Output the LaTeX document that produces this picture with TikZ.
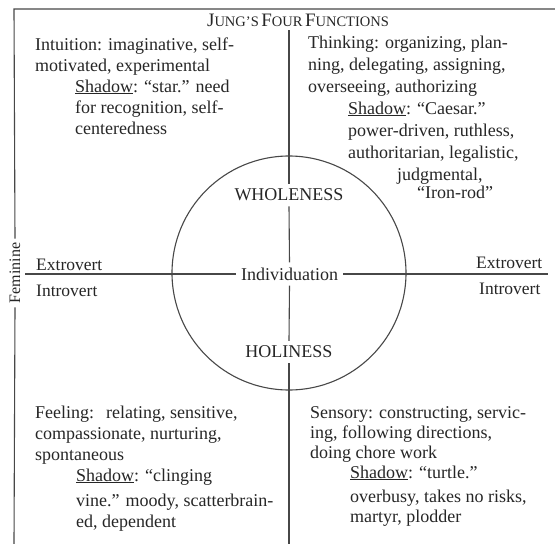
\documentclass[tikz,border=0pt]{standalone}
\usepackage{fontspec}
\setmainfont{Liberation Serif}
\begin{document}
\begin{tikzpicture}[x=1pt,y=-1pt,
  ink/.style={draw=black!72, line width=1.1pt},
  body/.style={text=black!85, font=\fontsize{18}{21}\selectfont, inner sep=0pt, anchor=base west, align=left},
  side/.style={text=black!85, font=\fontsize{17.5}{21}\selectfont, inner sep=0pt, anchor=base west},
  mid/.style={text=black!85, font=\fontsize{18}{21}\selectfont, inner sep=5pt},
  femstyle/.style={text=black!85, font=\fontsize{16}{18}\selectfont, inner sep=4pt}]
\useasboundingbox (0,0) rectangle (555,544);
% frame
\coordinate (tl) at (14,9);
\coordinate (tr) at (555,9);
\coordinate (bl) at (14,544);
\node[femstyle, rotate=90] (fem) at (15,273) {Feminine};
\draw[ink] (bl) -- (fem.west);
\draw[ink] (fem.east) -- (tl) -- (tr);
% title
\node[text=black!85, inner sep=0pt, anchor=base] (title) at (298,26)
  {{\fontsize{19}{19}\selectfont J}{\fontsize{14.5}{19}\selectfont UNG’S} {\fontsize{19}{19}\selectfont F}{\fontsize{14.5}{19}\selectfont OUR} {\fontsize{19}{19}\selectfont F}{\fontsize{14.5}{19}\selectfont UNCTIONS}};
% circle and centre labels
\node[ink, circle, minimum size=234pt, inner sep=0pt] (ring) at (289,273) {};
\node[mid] (whole) at (289,195) {WHOLENESS};
\node[mid] (indiv) at (289.5,274) {Individuation};
\node[mid] (holi) at (289,352) {HOLINESS};
% axes
\coordinate (vt) at (289,30);
\coordinate (vb) at (289,544);
\coordinate (hl) at (25,274);
\coordinate (hr) at (548,274);
\draw[ink] (vt) -- (whole.north);
\draw[ink] (whole.south) -- (indiv.north);
\draw[ink] (indiv.south) -- (holi.north);
\draw[ink] (holi.south) -- (vb);
\draw[ink] (hl) -- (indiv.west);
\draw[ink] (indiv.east) -- (hr);
% side labels
\node[side] (extl) at (36,270) {Extrovert};
\node[side] (intl) at (36,296) {Introvert};
\node[side] (extr) at (476,268) {Extrovert};
\node[side] (intr) at (479,294) {Introvert};
% quadrant texts (anchor = baseline of the last line)
\node[body] (intuition) at (35,134) {Intuition: imaginative, self-\\
motivated, experimental\\
\hspace*{40pt}\underline{Shadow}: “star.” need\\
\hspace*{40pt}for recognition, self-\\
\hspace*{40pt}centeredness};
\node[body, font=\fontsize{18}{22}\selectfont] (thinking) at (308,198) {Thinking: organizing, plan-\\
ning, delegating, assigning,\\
overseeing, authorizing\\
\hspace*{40pt}\underline{Shadow}: “Caesar.”\\
\hspace*{40pt}power-driven, ruthless,\\
\hspace*{40pt}authoritarian, legalistic,\\
\hspace*{89pt}judgmental,\\[-4pt]
\hspace*{109pt}“Iron-rod”};
\node[body] (feeling) at (35,527) {Feeling:\hspace{6pt} relating, sensitive,\\
compassionate, nurturing,\\
spontaneous\\
\hspace*{41pt}\underline{Shadow}: “clinging\\[4pt]
\hspace*{41pt}vine.” moody, scatterbrain-\\
\hspace*{41pt}ed, dependent};
\node[body, font=\fontsize{18}{20}\selectfont] (sensory) at (310,522) {Sensory: constructing, servic-\\
ing, following directions,\\
doing chore work\\
\hspace*{40pt}\underline{Shadow}: “turtle.”\\[4pt]
\hspace*{40pt}overbusy, takes no risks,\\
\hspace*{40pt}martyr, plodder};
\end{tikzpicture}
\end{document}
